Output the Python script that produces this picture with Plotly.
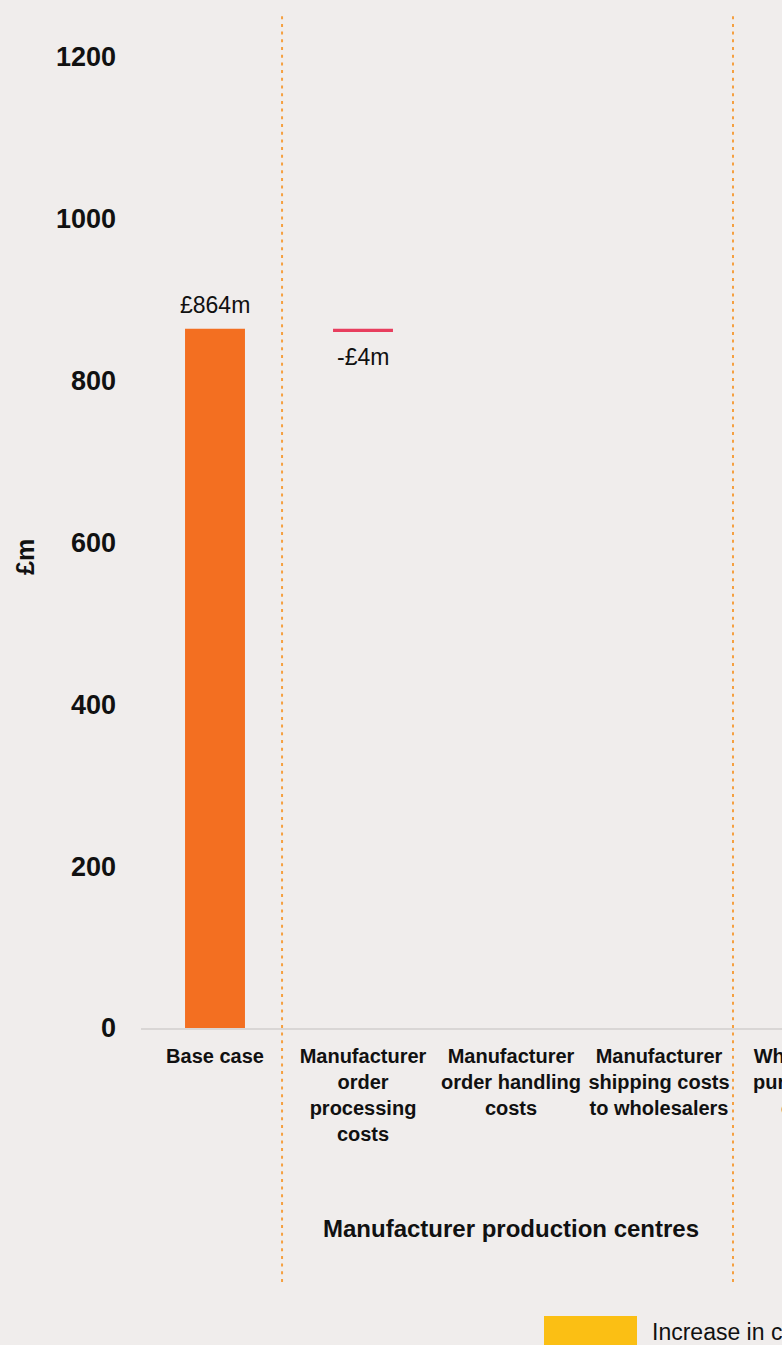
import plotly.graph_objects as go

# Waterfall data (£m)
categories = [
    "Base case",
    "Manufacturer<br>order<br>processing<br>costs",
    "Manufacturer<br>order handling<br>costs",
    "Manufacturer<br>shipping costs<br>to wholesalers",
    "Wholesaler<br>purchasing<br>costs",
]
measures = ["absolute", "relative", "relative", "relative", "relative"]
values = [864, -4, 0, 0, 0]
value_labels = ["£864m", "-£4m", "", "", ""]

y_ticks = [0, 200, 400, 600, 800, 1000, 1200]
y_title = "£m"
group_label = "Manufacturer production centres"
legend_labels = ["Increase in costs"]

BG = "#F0EDEC"
ORANGE = "#F36F21"
RED = "#E83E5E"
YELLOW = "#FBBF14"
DOT = "#F5A040"
INK = "#111111"
FONT = "Liberation Sans, Arial, Helvetica, sans-serif"

W, H = 1000, 1400
ML, MT, MB = 141, 14, H - 1028
plot_w = 740
plot_h = H - MT - MB


def py(pixel_y):
    """Convert a page pixel row to a paper y coordinate."""
    return (H - MB - pixel_y) / plot_h


def px(pixel_x):
    """Convert a page pixel column to a paper x coordinate."""
    return (pixel_x - ML) / plot_w


fig = go.Figure()
fig.add_trace(go.Waterfall(
    x=categories,
    y=values,
    measure=measures,
    width=0.405,
    textposition="none",
    increasing=dict(marker=dict(color=YELLOW)),
    decreasing=dict(marker=dict(color=RED)),
    totals=dict(marker=dict(color=ORANGE)),
    connector=dict(visible=False),
    showlegend=False,
    hoverinfo="skip",
))

# value labels placed from the running total
running = 0
for i, (m, v, lab) in enumerate(zip(measures, values, value_labels)):
    start = 0 if m == "absolute" else running
    end = v if m == "absolute" else running + v
    running = end
    if not lab:
        continue
    up = end >= start
    fig.add_annotation(x=categories[i], y=end, text=lab, showarrow=False,
                       yanchor="bottom" if up else "top",
                       yshift=9 if up else -10,
                       font=dict(size=23, color=INK, family=FONT))

# dotted group separators
for xs in [0.453, 3.5]:
    fig.add_shape(type="line", xref="x", yref="paper", x0=xs, x1=xs,
                  y0=py(1282), y1=1.0,
                  line=dict(color=DOT, width=2, dash="3px,4.7px"))

# group label
fig.add_annotation(x=categories[2], xref="x", yref="paper",
                   y=py(1228), text=group_label, showarrow=False,
                   yanchor="middle",
                   font=dict(size=24, color=INK, family=FONT, weight="bold"))

# y-axis title
fig.add_annotation(xref="paper", yref="paper", x=px(25), y=py(557),
                   text=y_title, textangle=-90, showarrow=False,
                   xanchor="center", yanchor="middle",
                   font=dict(size=25, color=INK, family=FONT, weight="bold"))

# legend swatch and text
fig.add_shape(type="rect", xref="paper", yref="paper",
              x0=px(544), x1=px(637), y0=py(1316), y1=py(1346),
              line=dict(width=0), fillcolor=YELLOW)
fig.add_annotation(xref="paper", yref="paper", x=px(650), y=py(1332),
                   xanchor="left", yanchor="middle",
                   text=legend_labels[0], showarrow=False,
                   font=dict(size=23, color=INK, family=FONT))

fig.update_layout(
    width=W, height=H,
    margin=dict(l=ML, r=W - ML - plot_w, t=MT, b=MB),
    paper_bgcolor=BG, plot_bgcolor=BG,
    font=dict(family=FONT, color=INK),
    xaxis=dict(
        type="category",
        range=[-0.5, 4.5],
        showgrid=False, zeroline=False,
        showline=True, linecolor="#D9D6D5", linewidth=2,
        ticks="", ticklabelstandoff=9, tickangle=0,
        tickfont=dict(size=20, color=INK, family=FONT, weight="bold"),
        fixedrange=True,
    ),
    yaxis=dict(
        range=[0, 1253],
        tickvals=y_ticks,
        showgrid=False, zeroline=False, showline=False,
        ticks="", ticklabelstandoff=24,
        tickfont=dict(size=27, color=INK, family=FONT, weight="bold"),
        fixedrange=True,
    ),
)

fig.write_html("out.html")
